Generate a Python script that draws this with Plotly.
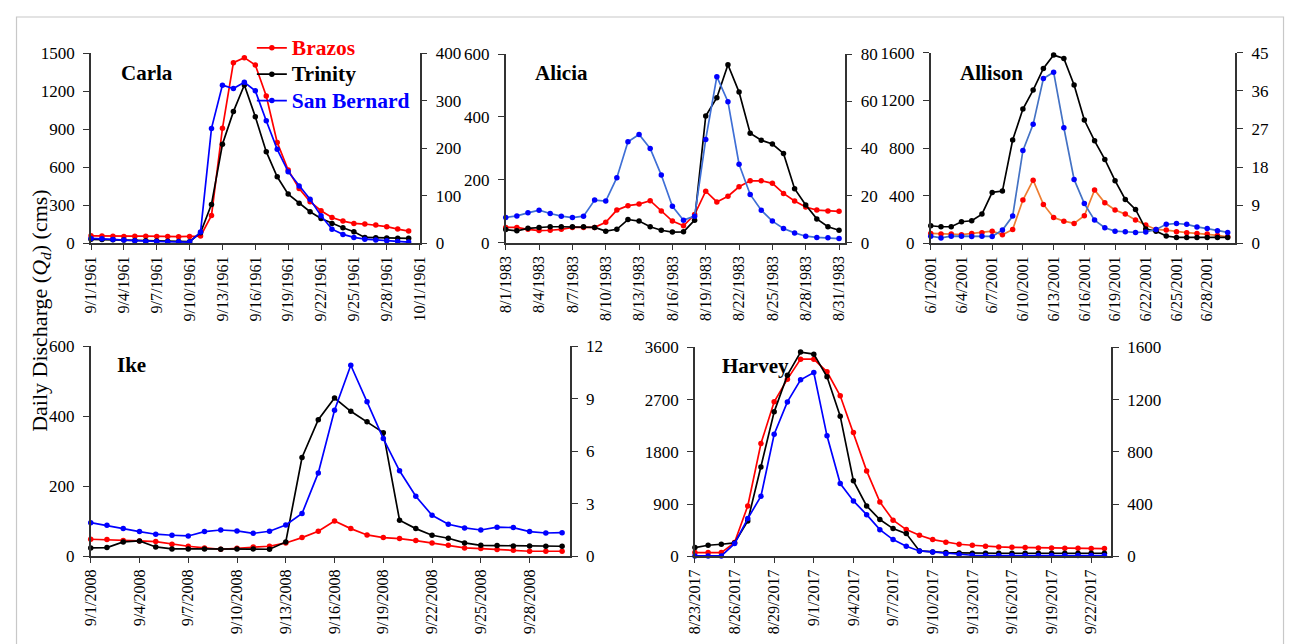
import plotly.graph_objects as go
import pandas as pd

FONT = "Liberation Serif"
OFF = 8              # browser body margin (horizontal)
W, H = 1293 - OFF, 644
# observed vertical mapping for this figure size (screen = A * fig_y + B)
A_Y, B_Y = 0.970, 17.0

# ---------------- data ----------------
carla_start = "1961-09-01"
carla_brazos = [60, 58, 56, 55, 57, 57, 55, 55, 53, 55, 58, 221, 908, 1426, 1466, 1408, 1163, 797, 579, 434,
                329, 258, 205, 176, 158, 153, 145, 132, 113, 97]
carla_trinity = [32, 30, 28, 26, 24, 22, 20, 18, 16, 14, 84, 308, 782, 1040, 1250, 1000, 724, 526, 389, 316,
                 250, 197, 158, 124, 92, 47, 45, 42, 40, 40]
carla_sanbernard = [10.5, 10, 8.4, 7, 5.6, 4.2, 4.2, 3.5, 3.5, 2.8, 24, 242, 333, 326, 339, 321, 258, 198, 151, 121,
                    93, 58, 30, 19, 12.6, 9, 7, 5.6, 4.2, 2.8]
carla_ticks = ["9/1/1961", "9/4/1961", "9/7/1961", "9/10/1961", "9/13/1961", "9/16/1961", "9/19/1961",
               "9/22/1961", "9/25/1961", "9/28/1961", "10/1/1961"]

alicia_start = "1983-08-01"
alicia_brazos = [49, 49, 43, 39, 40, 43, 49, 49, 49, 65, 104, 118, 123, 134, 101, 69, 54, 90, 164, 130,
                 148, 178, 197, 197, 189, 157, 133, 114, 104, 101, 100]
alicia_trinity = [42, 38, 46, 49, 51, 51, 51, 51, 49, 37, 43, 74, 69, 51, 40, 34, 35, 72, 403, 461,
                  566, 479, 348, 326, 314, 284, 172, 120, 76, 51, 40]
alicia_sanbernard = [10.7, 11.4, 12.7, 13.8, 12.4, 11.3, 10.7, 11.3, 18.1, 17.7, 27.6, 42.8, 45.9, 40, 28.7, 15.5,
                     9.6, 11.3, 43.8, 70.4, 59.8, 33.3, 20.5, 13.8, 9.2, 6.1, 4.2, 2.8, 2.3, 2.1, 1.8]
alicia_ticks = ["8/1/1983", "8/4/1983", "8/7/1983", "8/10/1983", "8/13/1983", "8/16/1983", "8/19/1983",
                "8/22/1983", "8/25/1983", "8/28/1983", "8/31/1983"]

allison_start = "2001-06-01"
allison_brazos = [84, 78, 78, 73, 84, 90, 103, 73, 117, 364, 531, 327, 218, 187, 168, 232, 448, 341, 280, 246,
                  196, 154, 117, 112, 98, 90, 84, 78, 67, 56]
allison_trinity = [148, 140, 140, 182, 190, 246, 428, 439, 867, 1127, 1287, 1468, 1580, 1552, 1329, 1035, 861, 705,
                   526, 369, 285, 120, 103, 62, 50, 50, 50, 50, 50, 50]
allison_sanbernard = [1.7, 1.3, 1.7, 1.7, 1.65, 1.7, 1.65, 3.15, 6.45, 21.9, 28.1, 38.9, 40.4, 27.3, 15.1, 9.4,
                      5.5, 3.7, 2.9, 2.75, 2.6, 2.7, 3.3, 4.5, 4.7, 4.5, 3.9, 3.5, 3.0, 2.6]
allison_ticks = ["6/1/2001", "6/4/2001", "6/7/2001", "6/10/2001", "6/13/2001", "6/16/2001", "6/19/2001",
                 "6/22/2001", "6/25/2001", "6/28/2001"]

ike_start = "2008-09-01"
ike_brazos = [48.6, 47.6, 44.8, 43.8, 41.9, 34.3, 28.6, 23.8, 20, 22.9, 26.7, 28.6, 38.1, 53.3, 71.4, 101, 79, 61,
              53.3, 50.5, 44.8, 38.1, 31.4, 23.8, 21.9, 19, 17.1, 14.3, 14.3, 14.3]
ike_trinity = [23.8, 24.8, 41, 43.8, 26.7, 21, 21, 21, 20, 21, 21, 20, 41, 282, 390, 452, 414, 384, 353, 103,
               79, 60, 51.4, 38.1, 31.4, 30.5, 29.5, 29.5, 28.6, 28.6]
ike_sanbernard = [1.92, 1.77, 1.58, 1.41, 1.26, 1.2, 1.16, 1.41, 1.5, 1.45, 1.31, 1.43, 1.79, 2.44, 4.76, 8.34,
                  10.91, 8.82, 6.72, 4.88, 3.43, 2.34, 1.83, 1.62, 1.5, 1.66, 1.64, 1.41, 1.33, 1.35]
ike_ticks = ["9/1/2008", "9/4/2008", "9/7/2008", "9/10/2008", "9/13/2008", "9/16/2008", "9/19/2008",
             "9/22/2008", "9/25/2008", "9/28/2008"]

harvey_start = "2017-08-23"
harvey_brazos = [63, 63, 63, 236, 868, 1944, 2663, 3054, 3399, 3399, 3180, 2766, 2134, 1472, 937, 621, 460, 362,
                 288, 242, 207, 190, 173, 161, 155, 150, 144, 144, 138, 138, 132, 132]
harvey_trinity = [150, 190, 207, 230, 610, 1541, 2490, 3123, 3520, 3485, 3094, 2415, 1300, 868, 633, 477, 391, 92,
                  75, 63, 58, 52, 52, 52, 52, 52, 52, 52, 52, 52, 52, 52]
harvey_sanbernard = [2.5, 2.5, 2.5, 97, 289, 460, 935, 1183, 1352, 1408, 923, 557, 424, 319, 204, 128, 77, 41,
                     33, 20, 13, 8, 5, 5, 5, 5, 5, 5, 5, 5, 5, 5]
harvey_ticks = ["8/23/2017", "8/26/2017", "8/29/2017", "9/1/2017", "9/4/2017", "9/7/2017", "9/10/2017",
                "9/13/2017", "9/16/2017", "9/19/2017", "9/22/2017"]

# ---------------- helpers: screen pixel -> paper fraction ----------------
def px_x(p):
    return (p - OFF) / W

def px_y(p):
    f = (p - B_Y) / A_Y
    return 1 - f / H

panels = [
    dict(name="Carla", start=carla_start, b=carla_brazos, t=carla_trinity, s=carla_sanbernard, ticks=carla_ticks,
         xdom=(83, 416), ydom=(53.3, 243.3), xend="1961-10-01", left=(1500, 300), right=(400, 100),
         title_xy=(111, 72.5), bline="#FF0000", sline="#0000FF"),
    dict(name="Alicia", start=alicia_start, b=alicia_brazos, t=alicia_trinity, s=alicia_sanbernard, ticks=alicia_ticks,
         xdom=(503.3, 846.7), ydom=(54, 242.7), xend="1983-08-31 12:00", left=(600, 200), right=(80, 20),
         title_xy=(531, 72.5), bline="#FF0000", sline="#3F6FD6"),
    dict(name="Allison", start=allison_start, b=allison_brazos, t=allison_trinity, s=allison_sanbernard,
         ticks=allison_ticks, xdom=(934, 1242.7), ydom=(52.7, 243.3), xend="2001-06-30 18:00", left=(1600, 400),
         right=(45, 9), title_xy=(962, 72.5), bline="#ED7D31", sline="#4472C4"),
    dict(name="Ike", start=ike_start, b=ike_brazos, t=ike_trinity, s=ike_sanbernard, ticks=ike_ticks,
         xdom=(82.7, 568.3), ydom=(346, 556), xend="2008-09-30 11:30", left=(600, 200), right=(12, 3),
         title_xy=(107, 365), bline="#FF0000", sline="#0000FF"),
    dict(name="Harvey", start=harvey_start, b=harvey_brazos, t=harvey_trinity, s=harvey_sanbernard,
         ticks=harvey_ticks, xdom=(695, 1116.7), ydom=(347.3, 556), xend="2017-09-23 12:00", left=(3600, 900),
         right=(1600, 400), title_xy=(720, 366), bline="#FF0000", sline="#0000FF"),
]

AXIS_COLOR = "#333333"
fig = go.Figure()
layout = {}
annotations = []

for i, p in enumerate(panels):
    k = i + 1
    xid = "x" if k == 1 else f"x{k}"
    yl = 2 * k - 1
    yr = 2 * k
    ylid = "y" if yl == 1 else f"y{yl}"
    yrid = f"y{yr}"
    dates = pd.date_range(p["start"], periods=len(p["b"]), freq="D")
    first = (i == 0)
    series = [
        ("Brazos", p["b"], p["bline"], "#FF0000", ylid, "#FF0000"),
        ("Trinity", p["t"], "#000000", "#000000", ylid, "#000000"),
        ("San Bernard", p["s"], p["sline"], "#0000FF", yrid, "#0000FF"),
    ]
    for nm, vals, lc, mc, yax, tc in series:
        fig.add_trace(go.Scatter(
            x=dates, y=vals, mode="lines+markers",
            name=f"<span style='color:{tc};font-weight:bold;font-size:21.5px'><b>{nm}</b></span>",
            legendgroup=nm, showlegend=first,
            line=dict(color=lc, width=1.7),
            marker=dict(color=mc, size=5.5, symbol="circle"),
            xaxis=xid, yaxis=yax, cliponaxis=False,
        ))
    tickvals = [pd.to_datetime(t, format="%m/%d/%Y") for t in p["ticks"]]
    xkey = "xaxis" if k == 1 else f"xaxis{k}"
    layout[xkey] = dict(
        domain=[px_x(p["xdom"][0]), px_x(p["xdom"][1])],
        anchor=ylid, type="date",
        range=[p["start"], p["xend"]],
        tickmode="array", tickvals=tickvals, ticktext=p["ticks"],
        tickangle=-90, ticks="outside", ticklen=5, tickwidth=1.3, tickcolor=AXIS_COLOR,
        showline=True, linecolor=AXIS_COLOR, linewidth=1.6,
        showgrid=False, zeroline=False,
        tickfont=dict(family=FONT, size=16, color="#000000"),
    )
    ylkey = "yaxis" if yl == 1 else f"yaxis{yl}"
    layout[ylkey] = dict(
        domain=[px_y(p["ydom"][1]), px_y(p["ydom"][0])],
        anchor=xid, range=[0, p["left"][0]], tickmode="linear", tick0=0, dtick=p["left"][1],
        ticks="outside", ticklen=6, tickwidth=1.3, tickcolor=AXIS_COLOR,
        showline=True, linecolor=AXIS_COLOR, linewidth=1.6,
        showgrid=False, zeroline=False, ticklabelstandoff=5,
        tickfont=dict(family=FONT, size=17, color="#000000"),
    )
    layout[f"yaxis{yr}"] = dict(
        domain=[px_y(p["ydom"][1]), px_y(p["ydom"][0])],
        anchor=xid, overlaying=ylid, side="right",
        range=[0, p["right"][0]], tickmode="linear", tick0=0, dtick=p["right"][1],
        ticks="outside", ticklen=6, tickwidth=1.3, tickcolor=AXIS_COLOR,
        showline=True, linecolor=AXIS_COLOR, linewidth=1.6,
        showgrid=False, zeroline=False, ticklabelstandoff=5,
        tickfont=dict(family=FONT, size=17, color="#000000"),
    )
    annotations.append(dict(
        text=f"<b>{p['name']}</b>", xref="paper", yref="paper",
        x=px_x(p["title_xy"][0]), y=px_y(p["title_xy"][1]), xanchor="left", yanchor="middle",
        showarrow=False, font=dict(family=FONT, size=21, color="#000000"),
    ))

annotations.append(dict(
    text="Daily Discharge (<i>Q</i><sub><i>d</i></sub>) (cms)", xref="paper", yref="paper",
    x=px_x(32), y=px_y(310), xanchor="center", yanchor="middle", textangle=-90,
    showarrow=False, font=dict(family=FONT, size=22, color="#000000"),
))

fig.update_layout(
    **layout,
    annotations=annotations,
    width=W, height=H,
    margin=dict(l=0, r=0, t=0, b=0),
    paper_bgcolor="#FFFFFF", plot_bgcolor="rgba(0,0,0,0)",
    font=dict(family=FONT, color="#000000"),
    showlegend=True,
    legend=dict(
        x=px_x(246), y=px_y(29.6), xanchor="left", yanchor="top",
        bgcolor="rgba(0,0,0,0)", borderwidth=0, itemwidth=30, tracegroupgap=0,
        font=dict(family=FONT, size=18, color="#000000"),
    ),
    shapes=[dict(type="rect", xref="paper", yref="paper",
                 x0=px_x(7.5), x1=px_x(1291.5), y0=-0.05, y1=1.0,
                 line=dict(color="#C8C8C8", width=1.2), fillcolor="rgba(0,0,0,0)", layer="below")],
)

fig.write_html("out.html", config={"displayModeBar": False})
